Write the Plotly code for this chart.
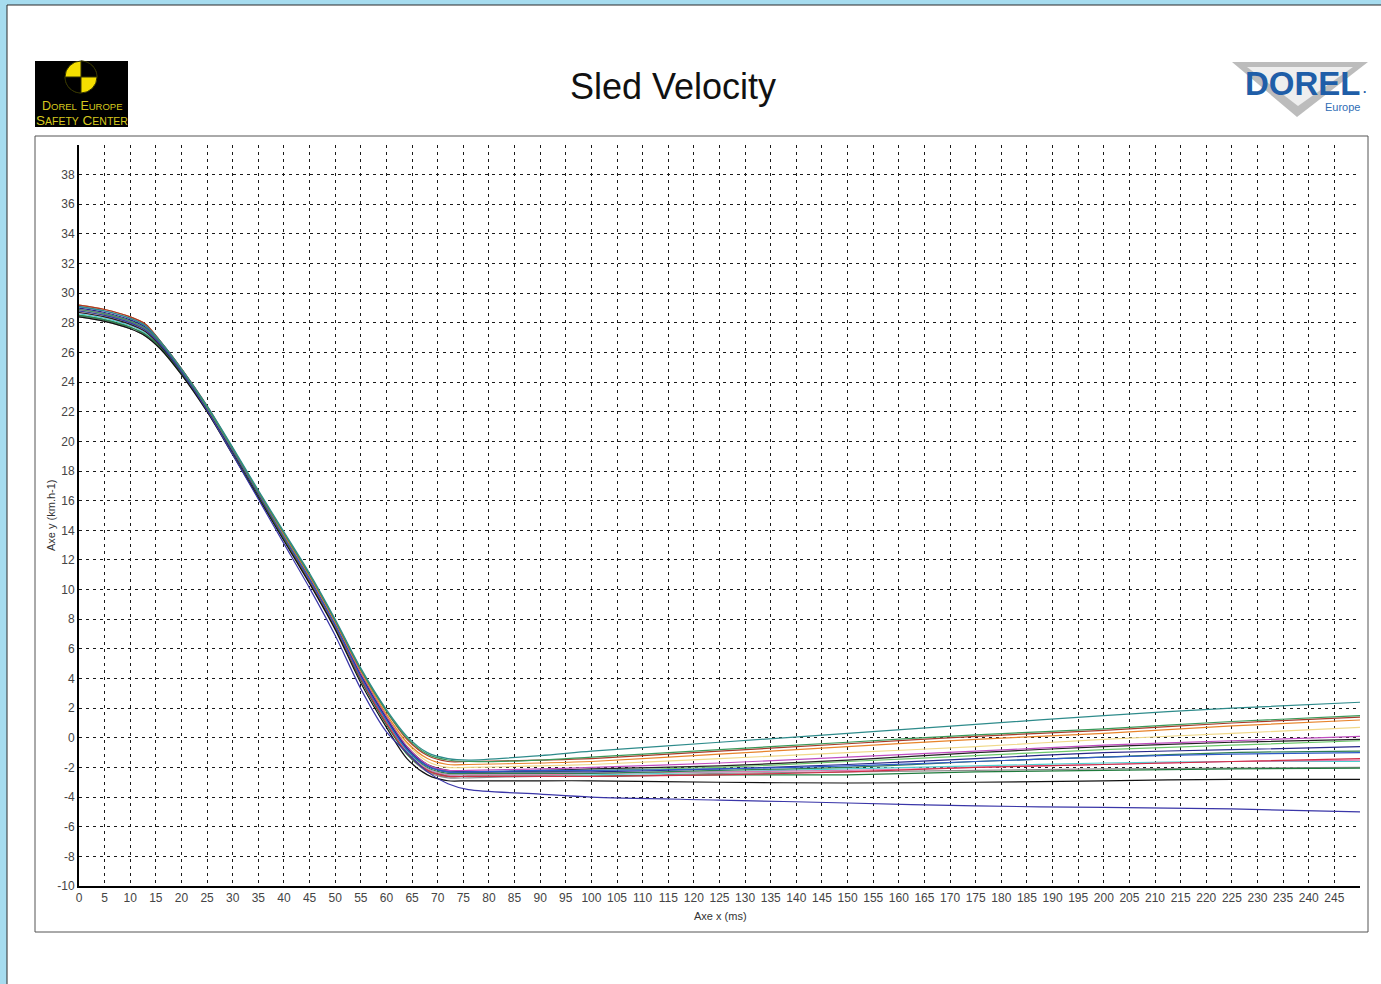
import plotly.graph_objects as go
import math

# ---------------- data ----------------
T_MS = [0, 5, 10, 13, 16, 20, 25, 30, 35, 40, 45, 50, 55, 60, 64, 68, 72, 76,
        90, 100, 125, 150, 175, 200, 225, 250]

V_TEAL = [29.1, 28.8, 28.3, 27.8, 26.7, 24.9, 22.4, 19.6, 16.7, 13.9, 11.1, 8.0, 4.7, 1.9, 0.1, -1.0, -1.4, -1.5,
          -1.2, -0.9, -0.3, 0.3, 0.9, 1.5, 2.0, 2.4]
V_GREEN = [28.9, 28.6, 28.1, 27.6, 26.6, 24.8, 22.3, 19.5, 16.6, 13.8, 11.0, 7.9, 4.6, 1.8, 0.0, -1.1, -1.5, -1.6,
           -1.5, -1.3, -0.8, -0.3, 0.2, 0.6, 1.1, 1.5]
V_BROWN = [29.2, 28.9, 28.4, 27.9, 26.7, 24.9, 22.4, 19.5, 16.6, 13.8, 11.0, 7.9, 4.6, 1.8, -0.1, -1.2, -1.6, -1.6,
           -1.5, -1.4, -0.9, -0.4, 0.1, 0.5, 1.0, 1.4]
V_ORANGE = [29.2, 28.9, 28.4, 27.9, 26.7, 24.9, 22.3, 19.5, 16.6, 13.7, 10.9, 7.8, 4.5, 1.6, -0.3, -1.4, -1.8, -1.8,
            -1.7, -1.6, -1.1, -0.6, -0.1, 0.3, 0.8, 1.2]
V_YELLOW = [28.8, 28.5, 28.0, 27.5, 26.5, 24.8, 22.3, 19.4, 16.5, 13.7, 10.9, 7.8, 4.4, 1.5, -0.4, -1.6, -2.0, -2.0,
            -1.9, -1.8, -1.4, -1.0, -0.6, -0.1, 0.3, 0.7]
V_MAGENTA = [28.9, 28.6, 28.1, 27.6, 26.6, 24.8, 22.3, 19.4, 16.5, 13.6, 10.8, 7.7, 4.3, 1.4, -0.6, -1.8, -2.2, -2.2,
             -2.1, -2.0, -1.7, -1.3, -0.9, -0.5, -0.2, 0.1]
V_BLACK_UP = [28.7, 28.4, 27.9, 27.4, 26.4, 24.7, 22.2, 19.3, 16.4, 13.6, 10.8, 7.7, 4.3, 1.4, -0.6, -1.8, -2.2, -2.3,
              -2.2, -2.1, -1.9, -1.5, -1.0, -0.6, -0.3, -0.1]
V_LGREEN = [28.8, 28.5, 28.0, 27.5, 26.5, 24.7, 22.2, 19.3, 16.4, 13.6, 10.7, 7.6, 4.2, 1.3, -0.7, -1.9, -2.3, -2.3,
            -2.3, -2.2, -2.0, -1.6, -1.2, -0.8, -0.5, -0.2]
V_NAVY = [29.0, 28.7, 28.2, 27.7, 26.6, 24.8, 22.3, 19.4, 16.5, 13.6, 10.7, 7.6, 4.2, 1.3, -0.7, -1.9, -2.3, -2.3,
          -2.3, -2.3, -2.1, -1.8, -1.4, -1.0, -0.8, -0.6]
V_DGREEN = [28.5, 28.2, 27.7, 27.2, 26.3, 24.6, 22.1, 19.3, 16.4, 13.5, 10.7, 7.6, 4.2, 1.2, -0.8, -2.0, -2.4, -2.4,
            -2.4, -2.4, -2.2, -2.0, -1.6, -1.3, -1.0, -0.9]
V_BLUE = [29.1, 28.8, 28.3, 27.8, 26.7, 24.9, 22.3, 19.4, 16.5, 13.6, 10.7, 7.6, 4.1, 1.2, -0.8, -1.9, -2.3, -2.3,
          -2.2, -2.2, -2.1, -1.9, -1.6, -1.3, -1.1, -1.0]
V_CYAN = [28.6, 28.3, 27.8, 27.3, 26.4, 24.7, 22.2, 19.3, 16.4, 13.5, 10.6, 7.5, 4.1, 1.1, -0.9, -2.1, -2.5, -2.5,
          -2.5, -2.5, -2.3, -2.1, -1.9, -1.7, -1.6, -1.6]
V_RED = [28.9, 28.6, 28.1, 27.6, 26.5, 24.7, 22.2, 19.3, 16.4, 13.5, 10.6, 7.5, 4.0, 1.0, -1.0, -2.2, -2.6, -2.6,
         -2.6, -2.6, -2.5, -2.3, -2.0, -1.8, -1.6, -1.4]
V_PINK = [28.7, 28.4, 27.9, 27.4, 26.4, 24.7, 22.2, 19.3, 16.4, 13.5, 10.6, 7.5, 4.0, 1.0, -1.0, -2.1, -2.5, -2.5,
          -2.5, -2.4, -2.3, -2.2, -2.0, -1.8, -1.6, -1.5]
V_GRAY = [28.4, 28.1, 27.6, 27.1, 26.2, 24.5, 22.0, 19.2, 16.3, 13.4, 10.5, 7.4, 3.9, 0.9, -1.1, -2.3, -2.7, -2.7,
          -2.6, -2.6, -2.4, -2.3, -2.2, -2.1, -2.05, -2.0]
V_GREEN2 = [28.5, 28.2, 27.7, 27.2, 26.3, 24.6, 22.1, 19.2, 16.3, 13.4, 10.5, 7.4, 3.9, 0.9, -1.1, -2.2, -2.6, -2.6,
            -2.6, -2.6, -2.5, -2.5, -2.3, -2.2, -2.1, -2.05]
V_BLACK_LOW = [28.4, 28.1, 27.6, 27.1, 26.2, 24.5, 22.0, 19.1, 16.2, 13.3, 10.4, 7.3, 3.7, 0.7, -1.4, -2.5, -2.9, -2.9,
               -2.9, -2.9, -3.0, -3.05, -3.0, -2.9, -2.8, -2.8]
V_NAVY_LOW = [28.8, 28.5, 28.0, 27.5, 26.5, 24.7, 22.1, 19.1, 16.1, 13.1, 10.1, 6.9, 3.3, 0.4, -1.0, -2.3, -3.1, -3.5,
              -3.8, -4.0, -4.2, -4.4, -4.6, -4.7, -4.8, -5.0]

SERIES = [
    (V_YELLOW, "#f0d98a"), (V_GRAY, "#8c8c8c"), (V_CYAN, "#4fd0d0"), (V_PINK, "#e07ab0"),
    (V_GREEN2, "#1f7a3c"), (V_RED, "#d03048"), (V_DGREEN, "#2f7f50"), (V_LGREEN, "#6cc86c"),
    (V_BLACK_UP, "#222222"), (V_MAGENTA, "#c04ec0"), (V_NAVY, "#28288a"), (V_BLUE, "#2f5cc8"),
    (V_ORANGE, "#e8842a"), (V_BROWN, "#a83a2a"), (V_GREEN, "#3a9a5a"), (V_TEAL, "#2e8b8b"),
    (V_BLACK_LOW, "#111111"), (V_NAVY_LOW, "#3a36a8"),
]

X_TICKS = list(range(0, 251, 5))
X_TICK_TEXT = [str(v) if v < 250 else "" for v in X_TICKS]
Y_TICKS = list(range(-10, 41, 2))
Y_TICK_TEXT = [str(v) if v < 40 else "" for v in Y_TICKS]

# ---------------- layout helpers ----------------
W_PX, H_PX = 1381, 984
L, R, T, B = 79, 1360, 145, 886
PW, PH = R - L, B - T
BLUE_BG = "#a6dcef"


def fx(px):
    return (px - L) / PW


def fy(py):
    return (B - py) / PH


FONT = "Liberation Sans, Arial, sans-serif"

fig = go.Figure()
for vals, col in SERIES:
    fig.add_trace(go.Scatter(x=T_MS, y=vals, mode="lines",
                             line=dict(color=col, width=1.2, shape="spline", smoothing=0.8),
                             hoverinfo="skip", showlegend=False))

shapes = []
# white page
shapes.append(dict(type="rect", xref="paper", yref="paper", x0=fx(7), x1=fx(1420), y0=fy(1020), y1=fy(5),
                   fillcolor="white", line=dict(color="#2a2a2a", width=1), layer="below"))
# chart frame
shapes.append(dict(type="rect", xref="paper", yref="paper", x0=fx(35), x1=fx(1368), y0=fy(932), y1=fy(136),
                   fillcolor="white", line=dict(color="#555555", width=1), layer="below"))
# left logo: black box
shapes.append(dict(type="rect", xref="paper", yref="paper", x0=fx(35), x1=fx(128), y0=fy(127), y1=fy(61),
                   fillcolor="black", line=dict(width=0), layer="above"))
cx, cy, r = 81, 77, 16
shapes.append(dict(type="circle", xref="paper", yref="paper", x0=fx(cx - r), x1=fx(cx + r), y0=fy(cy + r),
                   y1=fy(cy - r), fillcolor="#f5df00", line=dict(color="#333300", width=1), layer="above"))


def quadrant(a0, a1):
    pts = [f"M{fx(cx):.5f},{fy(cy):.5f}"]
    n = 12
    for i in range(n + 1):
        a = math.radians(a0 + (a1 - a0) * i / n)
        pts.append(f"L{fx(cx + r * math.cos(a)):.5f},{fy(cy - r * math.sin(a)):.5f}")
    return " ".join(pts) + " Z"


for a0, a1 in [(0, 90), (180, 270)]:
    shapes.append(dict(type="path", xref="paper", yref="paper", path=quadrant(a0, a1),
                       fillcolor="black", line=dict(color="#333300", width=1), layer="above"))


def tri(p):
    return "M" + " L".join(f"{fx(a):.5f},{fy(b):.5f}" for a, b in p) + " Z"


# right logo: grey chevron
shapes.append(dict(type="path", xref="paper", yref="paper",
                   path=tri([(1232, 62), (1368, 62), (1297, 117)]),
                   fillcolor="#bcbcbc", line=dict(width=0), layer="above"))
shapes.append(dict(type="path", xref="paper", yref="paper",
                   path=tri([(1247, 67), (1353, 67), (1298, 106)]),
                   fillcolor="#eeeeee", line=dict(width=0), layer="above"))

annotations = [
    dict(text="Sled Velocity", x=fx(673), y=fy(86), xref="paper", yref="paper", showarrow=False,
         font=dict(family=FONT, size=36, color="#111111"), xanchor="center", yanchor="middle"),
    dict(text="Axe x (ms)", x=fx(720), y=fy(916), xref="paper", yref="paper", showarrow=False,
         font=dict(family=FONT, size=11, color="#333333"), xanchor="center", yanchor="middle"),
    dict(text="Axe y (km.h-1)", x=fx(51), y=fy(515), xref="paper", yref="paper", showarrow=False, textangle=-90,
         font=dict(family=FONT, size=11, color="#333333"), xanchor="center", yanchor="middle"),
    dict(text="D<span style='font-size:9.5px'>OREL</span> E<span style='font-size:9.5px'>UROPE</span>",
         x=fx(82), y=fy(106), xref="paper", yref="paper", showarrow=False,
         font=dict(family=FONT, size=12.5, color="#d6c81e"), xanchor="center", yanchor="middle"),
    dict(text="S<span style='font-size:10.5px'>AFETY</span> C<span style='font-size:10.5px'>ENTER</span>",
         x=fx(82), y=fy(120), xref="paper", yref="paper", showarrow=False,
         font=dict(family=FONT, size=13.5, color="#d6c81e"), xanchor="center", yanchor="middle"),
    dict(text="<b>DOREL</b>", x=fx(1303), y=fy(83), xref="paper", yref="paper", showarrow=False,
         font=dict(family=FONT, size=33, color="#1f5ea8"), xanchor="center", yanchor="middle"),
    dict(text="<b>.</b>", x=fx(1364), y=fy(89), xref="paper", yref="paper", showarrow=False,
         font=dict(family=FONT, size=12, color="#1f5ea8"), xanchor="center", yanchor="middle"),
    dict(text="Europe", x=fx(1342), y=fy(107), xref="paper", yref="paper", showarrow=False,
         font=dict(family=FONT, size=11, color="#2f6db5"), xanchor="center", yanchor="middle"),
]

fig.update_layout(
    width=W_PX, height=H_PX,
    margin=dict(l=L, r=W_PX - R, t=T, b=H_PX - B, pad=0),
    paper_bgcolor=BLUE_BG, plot_bgcolor="white",
    showlegend=False, shapes=shapes, annotations=annotations,
    font=dict(family=FONT, size=12, color="#444444"),
)
grid = dict(showgrid=True, gridcolor="#1a1a1a", gridwidth=1, griddash="3px,4px", zeroline=False)
fig.update_xaxes(range=[0, 250], tickmode="array", tickvals=X_TICKS, ticktext=X_TICK_TEXT,
                 showline=True, linecolor="black", linewidth=2, ticks="",
                 tickfont=dict(family=FONT, size=12, color="#444444"), **grid)
fig.update_yaxes(range=[-10, 40], tickmode="array", tickvals=Y_TICKS, ticktext=Y_TICK_TEXT,
                 showline=True, linecolor="black", linewidth=2, ticks="",
                 tickfont=dict(family=FONT, size=12, color="#444444"), **grid)

fig.write_html(
    "out.html",
    config={"displayModeBar": False},
    post_script=("document.body.style.margin='0px';"
                 "document.body.style.background='" + BLUE_BG + "';"
                 "document.body.style.overflow='hidden';"),
)
